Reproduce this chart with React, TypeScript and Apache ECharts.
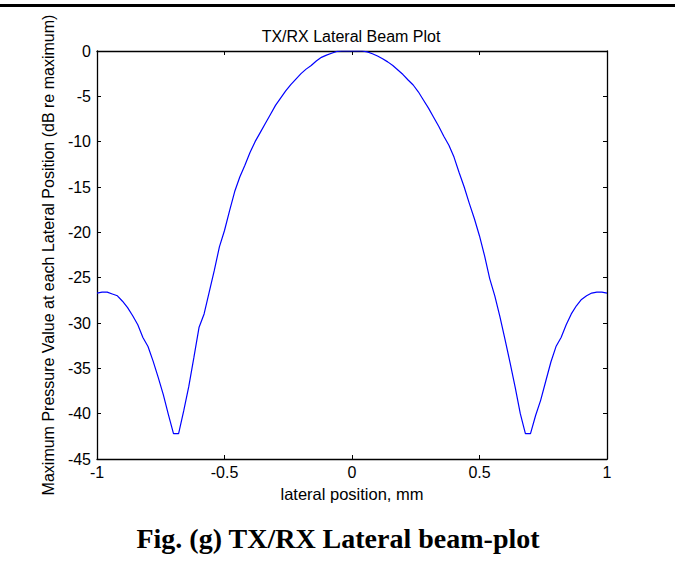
import React, { useEffect, useRef } from "react";
import * as echarts from "echarts";

const xPositions: number[] = [
  -1.0, -0.98, -0.96, -0.94, -0.92, -0.9, -0.88, -0.86, -0.84, -0.82, -0.8,
  -0.78, -0.76, -0.74, -0.72, -0.7, -0.68, -0.66, -0.64, -0.62, -0.6, -0.58,
  -0.56, -0.54, -0.52, -0.5, -0.48, -0.46, -0.44, -0.42, -0.4, -0.38, -0.36,
  -0.34, -0.32, -0.3, -0.28, -0.26, -0.24, -0.22, -0.2, -0.18, -0.16, -0.14,
  -0.12, -0.1, -0.08, -0.06, -0.04, -0.02, 0.0, 0.02, 0.04, 0.06, 0.08, 0.1,
  0.12, 0.14, 0.16, 0.18, 0.2, 0.22, 0.24, 0.26, 0.28, 0.3, 0.32, 0.34, 0.36,
  0.38, 0.4, 0.42, 0.44, 0.46, 0.48, 0.5, 0.52, 0.54, 0.56, 0.58, 0.6, 0.62,
  0.64, 0.66, 0.68, 0.7, 0.72, 0.74, 0.76, 0.78, 0.8, 0.82, 0.84, 0.86, 0.88,
  0.9, 0.92, 0.94, 0.96, 0.98, 1.0,
];

const pressureDb: number[] = [
  -26.7, -26.6, -26.6, -26.8, -27.0, -27.6, -28.3, -29.2, -30.2, -31.6, -32.6,
  -34.2, -36.0, -37.9, -40.1, -42.2, -42.2, -39.7, -37.0, -33.8, -30.5, -29.0,
  -26.6, -24.2, -21.6, -19.8, -17.6, -15.5, -13.9, -12.6, -11.2, -10.0, -9.0,
  -8.0, -7.0, -6.0, -5.2, -4.4, -3.7, -3.1, -2.5, -2.0, -1.6, -1.1,
  -0.7, -0.45, -0.25, -0.05, 0.0, 0.0, 0.0, 0.0, 0.0, -0.1, -0.3, -0.55,
  -0.85, -1.2, -1.6, -2.1, -2.6, -3.2, -3.75, -4.5, -5.4, -6.3, -7.3, -8.3, -9.4,
  -10.4, -11.7, -13.4, -15.0, -16.8, -18.5, -20.4, -22.6, -25.1, -27.0, -29.3, -31.8, -34.4,
  -37.1, -40.0, -42.2, -42.2, -40.2, -38.5, -36.4, -34.3, -32.6, -31.6, -30.2, -29.0, -28.1,
  -27.4, -27.0, -26.7, -26.6, -26.6, -26.7,
];

const xTicks: number[] = [-1, -0.5, 0, 0.5, 1];
const yTicks: number[] = [0, -5, -10, -15, -20, -25, -30, -35, -40, -45];

const chartTitle = "TX/RX Lateral Beam Plot";
const xName = "lateral position, mm";
const yName = "Maximum Pressure Value at each Lateral Position (dB re maximum)";
const caption = "Fig. (g) TX/RX Lateral beam-plot";

const FONT = "'Liberation Sans', Arial, Helvetica, sans-serif";

export default function App() {
  const ref = useRef<HTMLDivElement>(null);

  useEffect(() => {
    if (!ref.current) return;
    const chart = echarts.init(ref.current, undefined, { renderer: "svg" });
    const data = xPositions.map((x, i) => [x, pressureDb[i]]);
    const axisLine = { show: true, onZero: false, lineStyle: { color: "#000", width: 1.3 } };
    const tick = { show: true, inside: true, length: 4, lineStyle: { color: "#000", width: 1 } };
    const xMin = Math.min(...xTicks);
    const xMax = Math.max(...xTicks);
    const yMin = Math.min(...yTicks);
    const yMax = Math.max(...yTicks);

    chart.setOption({
      animation: false,
      backgroundColor: "#fff",
      title: {
        text: chartTitle,
        left: 346,
        top: 23,
        textAlign: "center",
        textStyle: { fontFamily: FONT, fontSize: 16, fontWeight: "normal", color: "#000" },
      },
      grid: { left: 97, right: 68, top: 51, bottom: 111 },
      xAxis: [
        {
          type: "value",
          position: "bottom",
          min: xMin,
          max: xMax,
          interval: 0.5,
          axisLine,
          axisTick: tick,
          splitLine: { show: false },
          axisLabel: { color: "#000", fontFamily: FONT, fontSize: 16, margin: 5 },
          name: xName,
          nameLocation: "middle",
          nameGap: 26,
          nameTextStyle: { color: "#000", fontFamily: FONT, fontSize: 16.5 },
        },
        {
          type: "value",
          position: "top",
          min: xMin,
          max: xMax,
          interval: 0.5,
          axisLine,
          axisTick: tick,
          splitLine: { show: false },
          axisLabel: { show: false },
        },
      ],
      yAxis: [
        {
          type: "value",
          position: "left",
          min: yMin,
          max: yMax,
          interval: 5,
          axisLine,
          axisTick: tick,
          splitLine: { show: false },
          axisLabel: { color: "#000", fontFamily: FONT, fontSize: 16, margin: 6 },
          name: yName,
          nameLocation: "middle",
          nameGap: 41,
          nameRotate: 90,
          nameTextStyle: { color: "#000", fontFamily: FONT, fontSize: 16 },
        },
        {
          type: "value",
          position: "right",
          min: yMin,
          max: yMax,
          interval: 5,
          axisLine,
          axisTick: tick,
          splitLine: { show: false },
          axisLabel: { show: false },
        },
      ],
      series: [
        {
          type: "line",
          data,
          xAxisIndex: 0,
          yAxisIndex: 0,
          showSymbol: false,
          lineStyle: { color: "#0000ff", width: 1.2 },
        },
      ],
      graphic: [
        {
          type: "rect",
          shape: { x: 0, y: 4, width: 675, height: 3 },
          style: { fill: "#000" },
        },
        {
          type: "text",
          x: 338,
          y: 538,
          style: {
            text: caption,
            align: "center",
            verticalAlign: "middle",
            font: "bold 28px 'Liberation Serif', 'DejaVu Serif', serif",
            fill: "#000",
          },
        },
      ],
    });
    return () => chart.dispose();
  }, []);

  return (
    <div
      ref={ref}
      style={{ position: "fixed", left: 0, top: 0, width: 675, height: 570, background: "#fff" }}
    />
  );
}
